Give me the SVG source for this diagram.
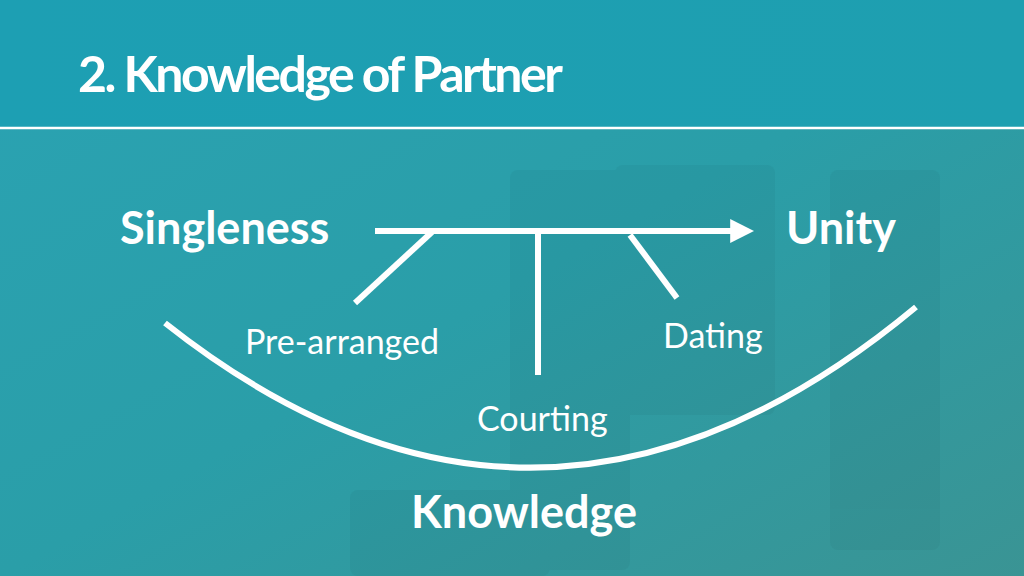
<svg xmlns="http://www.w3.org/2000/svg" width="1024" height="576" viewBox="0 0 1024 576">
<defs>
<linearGradient id="bg" x1="0" y1="0" x2="1" y2="1">
<stop offset="0" stop-color="#2aa3b3"/><stop offset="0.5" stop-color="#2a9ea8"/><stop offset="1" stop-color="#3a9494"/>
</linearGradient>
<linearGradient id="hd" x1="0" y1="0" x2="1" y2="0">
<stop offset="0" stop-color="#1d9fb3"/><stop offset="1" stop-color="#1e9fb0"/>
</linearGradient>
<marker id="ah" viewBox="0 0 10 10" refX="2" refY="5" markerWidth="4" markerHeight="4" orient="auto" markerUnits="strokeWidth">
<path d="M0,0 L10,5 L0,10 z" fill="#fff"/>
</marker>
<style>
.ln{stroke:#fff;stroke-width:6;fill:none}
.b{font-family:Lato,"Liberation Sans",sans-serif;font-weight:bold;fill:#fff}
.r{font-family:Lato,"Liberation Sans",sans-serif;fill:#fff;font-size:34px}
</style>
</defs>
<rect width="1024" height="576" fill="url(#bg)"/>
<g fill="#000" opacity="0.03">
<rect x="510" y="170" width="120" height="400" rx="8"/>
<rect x="615" y="165" width="160" height="250" rx="8"/>
<rect x="830" y="170" width="110" height="380" rx="8"/>
<rect x="350" y="490" width="200" height="86" rx="8"/>
</g>
<rect width="1024" height="127" fill="url(#hd)"/>
<line x1="0" y1="128" x2="1024" y2="128" stroke="#fff" stroke-width="2.5"/>
<text class="b" x="78" y="92" font-size="50" letter-spacing="-2.5">2. Knowledge of Partner</text>
<g id="connectors">
<line class="ln" x1="375" y1="231" x2="735" y2="231" marker-end="url(#ah)"/>
<line class="ln" x1="432" y1="232" x2="355" y2="303"/>
<line class="ln" x1="538" y1="232" x2="538" y2="375"/>
<line class="ln" x1="630" y1="235" x2="677" y2="298"/>
<path class="ln" d="M165,323 Q540,620 916,307"/>
</g>
<g id="singleness"><text class="b" x="120" y="244" font-size="45">Singleness</text></g>
<g id="unity"><text class="b" x="786" y="244" font-size="45">Unity</text></g>
<g id="prearranged"><text class="r" x="245" y="354">Pre-arranged</text></g>
<g id="dating"><text class="r" x="663" y="348">Dating</text></g>
<g id="courting"><text class="r" x="477" y="431">Courting</text></g>
<g id="knowledge"><text class="b" x="411" y="528" font-size="45">Knowledge</text></g>
</svg>
